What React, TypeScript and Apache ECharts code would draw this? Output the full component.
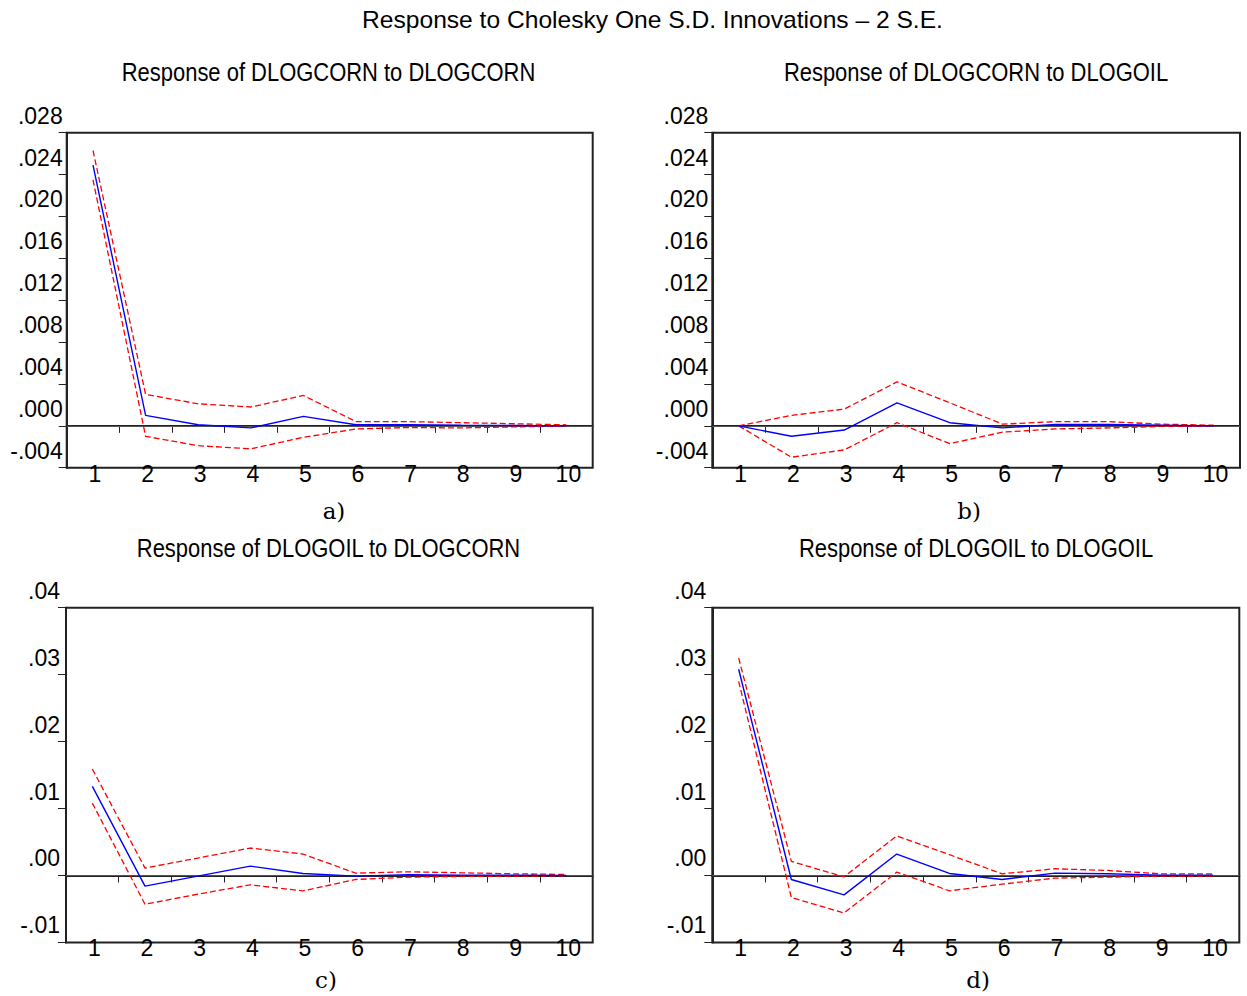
import React, { useEffect, useRef } from "react";
import * as echarts from "echarts";

const periods = ["1", "2", "3", "4", "5", "6", "7", "8", "9", "10"];

const aResp = [0.0249, 0.001, 0.0001, -0.0002, 0.0009, 0.0001, 0.0001, 0.00005, 0.00003, 0.0];
const aUpper = [0.0263, 0.003, 0.0021, 0.0018, 0.0029, 0.0004, 0.0004, 0.0003, 0.0002, 0.0001];
const aLower = [0.0235, -0.001, -0.0019, -0.0022, -0.0011, -0.0003, -0.00016, -0.0002, -0.0001, -0.00003];

const bResp = [0, -0.001, -0.0004, 0.0022, 0.0003, -0.0002, 0.00013, 0.00013, 0.00006, 0];
const bUpper = [0, 0.001, 0.0016, 0.0042, 0.0022, 0.00016, 0.0004, 0.0004, 0.00016, 0.00006];
const bLower = [0, -0.003, -0.0023, 0.0003, -0.0017, -0.0006, -0.0003, -0.0002, -0.00006, -0.00003];

const cResp = [0.0133, -0.0016, -0.0001, 0.0014, 0.0003, -0.0001, 0.0001, 0.00005, 0.00005, 0];
const cUpper = [0.0159, 0.0011, 0.0026, 0.0041, 0.0032, 0.00035, 0.00055, 0.0004, 0.00025, 0.00015];
const cLower = [0.0108, -0.0043, -0.0028, -0.0014, -0.0023, -0.0006, -0.00025, -0.00015, -0.0001, -0.00005];

const dResp = [0.0308, -0.0006, -0.0029, 0.0032, 0.0003, -0.0006, 0.00035, 0.00025, 0.00005, 0.00005];
const dUpper = [0.0325, 0.0021, -0.0002, 0.0059, 0.0031, 0.00025, 0.001, 0.00075, 0.00025, 0.00025];
const dLower = [0.029, -0.0033, -0.0056, 0.0005, -0.0023, -0.0013, -0.0004, -0.00025, -0.0001, -0.0001];

const mainTitle = "Response to Cholesky One S.D. Innovations \u2013 2 S.E.";
const panelTitles = [
  "Response of DLOGCORN to DLOGCORN",
  "Response of DLOGCORN to DLOGOIL",
  "Response of DLOGOIL to DLOGCORN",
  "Response of DLOGOIL to DLOGOIL",
];
const panelTags = ["a)", "b)", "c)", "d)"];

const yRanges = [
  { min: -0.004, max: 0.028, interval: 0.004, digits: 3 },
  { min: -0.004, max: 0.028, interval: 0.004, digits: 3 },
  { min: -0.01, max: 0.04, interval: 0.01, digits: 2 },
  { min: -0.01, max: 0.04, interval: 0.01, digits: 2 },
];

const panels = [
  { resp: aResp, upper: aUpper, lower: aLower },
  { resp: bResp, upper: bUpper, lower: bLower },
  { resp: cResp, upper: cUpper, lower: cLower },
  { resp: dResp, upper: dUpper, lower: dLower },
];

const grids = [
  { left: 66.7, top: 132.7, width: 526, height: 335 },
  { left: 712.3, top: 132.7, width: 527.7, height: 335 },
  { left: 66, top: 607.7, width: 526.7, height: 334.7 },
  { left: 712.3, top: 607.7, width: 527, height: 334.7 },
];
const titlePos = [
  [328.5, 72],
  [976, 72],
  [328.5, 548],
  [976, 548],
];
const tagPos = [
  [334, 511],
  [969, 511],
  [326, 980],
  [978, 980],
];

const SANS = "'Liberation Sans', Arial, sans-serif";

function fmt(v: number, digits: number) {
  const s = Math.abs(v) < 1e-12 ? (0).toFixed(digits) : v.toFixed(digits);
  return s.replace("0.", ".");
}

export default function App() {
  const ref = useRef<HTMLDivElement>(null);
  useEffect(() => {
    if (!ref.current) return;
    const chart = echarts.init(ref.current, undefined, { renderer: "svg" });
    const series: any[] = [];
    panels.forEach((p, i) => {
      series.push({
        type: "line",
        xAxisIndex: i,
        yAxisIndex: i,
        data: p.resp,
        symbol: "none",
        lineStyle: { color: "#0000ff", width: 1.4 },
        z: 3,
        markLine: {
          silent: true,
          symbol: ["none", "none"],
          label: { show: false },
          lineStyle: { color: "#555555", type: "solid", width: 1.2 },
          data: [{ yAxis: 0 }],
          z: 1,
        },
      });
      [p.upper, p.lower].forEach((d) => {
        series.push({
          type: "line",
          xAxisIndex: i,
          yAxisIndex: i,
          data: d,
          symbol: "none",
          lineStyle: { color: "#ff0000", width: 1.3, type: [6, 3] },
          z: 2,
        });
      });
    });

    const option: any = {
      animation: false,
      backgroundColor: "#ffffff",
      grid: grids.map((g) => ({
        ...g,
        show: true,
        borderColor: "#222222",
        borderWidth: 2,
        backgroundColor: "transparent",
        containLabel: false,
        outerBoundsMode: "none",
      })),
      xAxis: grids.map((_, i) => ({
        type: "category",
        gridIndex: i,
        data: periods,
        boundaryGap: true,
        axisLine: { show: true, lineStyle: { color: "#222222", width: 2 } },
        axisTick: {
          show: true,
          inside: false,
          length: 7,
          alignWithLabel: false,
          interval: 0,
          lineStyle: { color: "#222222", width: 1 },
        },
        axisLabel: {
          interval: 0,
          margin: 6,
          verticalAlign: "middle",
          padding: [0, 0, 0, 4],
          fontSize: 23,
          fontFamily: SANS,
          color: "#000000",
        },
        splitLine: { show: false },
      })),
      yAxis: grids.map((_, i) => ({
        type: "value",
        gridIndex: i,
        min: yRanges[i].min,
        max: yRanges[i].max,
        interval: yRanges[i].interval,
        axisLine: { show: true, lineStyle: { color: "#222222", width: 2 } },
        axisTick: {
          show: true,
          inside: false,
          length: 8,
          lineStyle: { color: "#222222", width: 1 },
        },
        axisLabel: {
          margin: i < 2 ? 4 : 6,
          verticalAlign: "bottom",
          lineHeight: 34,
          fontSize: 23,
          fontFamily: SANS,
          color: "#000000",
          formatter: (v: number) => fmt(v, yRanges[i].digits),
        },
        splitLine: { show: false },
      })),
      graphic: [
        {
          type: "text",
          x: 652.5,
          y: 20,
          scaleX: 1.07,
          style: {
            text: mainTitle,
            fontSize: 23,
            fontFamily: SANS,
            fill: "#000000",
            textAlign: "center",
            textVerticalAlign: "middle",
          },
        },
        ...panelTitles.map((t, i) => ({
          type: "text",
          x: titlePos[i][0],
          y: titlePos[i][1],
          scaleX: 0.845,
          style: {
            text: t,
            fontSize: 26,
            fontFamily: SANS,
            fill: "#000000",
            textAlign: "center",
            textVerticalAlign: "middle",
          },
        })),
        ...panelTags.map((t, i) => ({
          type: "text",
          x: tagPos[i][0],
          y: tagPos[i][1],
          style: {
            text: t,
            fontSize: 23,
            fontFamily: "'DejaVu Serif', 'Liberation Serif', serif",
            fill: "#000000",
            textAlign: "center",
            textVerticalAlign: "middle",
          },
        })),
      ],
      series,
    };
    chart.setOption(option);
    return () => chart.dispose();
  }, []);
  return (
    <div
      ref={ref}
      style={{ position: "absolute", left: 0, top: 0, width: 1247, height: 996, background: "#fff" }}
    />
  );
}
